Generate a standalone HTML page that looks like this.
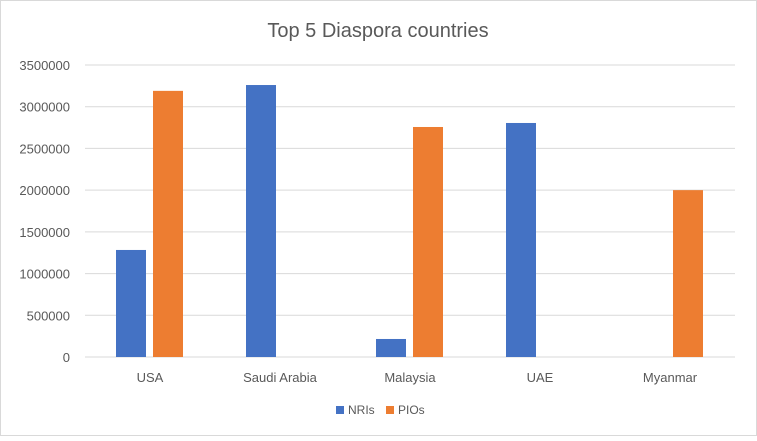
<!DOCTYPE html>
<html><head><meta charset="utf-8"><style>
body{margin:0;background:#fff;font-family:"Liberation Sans",sans-serif}
svg text{font-family:"Liberation Sans",sans-serif;fill:#595959}
</style></head><body>
<svg width="757" height="436">
<rect x="0.5" y="0.5" width="756" height="435" fill="#fff" stroke="#d9d9d9"/>
<text x="378" y="37" text-anchor="middle" font-size="20">Top 5 Diaspora countries</text>
<g id="grid"></g><g id="bars"></g><g id="labels"></g>
<g>
<rect x="336" y="406" width="8" height="8" fill="#4472c4"/>
<text x="348" y="414" font-size="12">NRIs</text>
<rect x="386" y="406" width="8" height="8" fill="#ed7d31"/>
<text x="398" y="414" font-size="12">PIOs</text>
</g>
</svg>
<script>
const categories=["USA","Saudi Arabia","Malaysia","UAE","Myanmar"];
const nris=[1283000,3260000,216000,2805000,0];
const pios=[3190000,0,2757000,0,2000000];
const ticks=[0,500000,1000000,1500000,2000000,2500000,3000000,3500000];
const NS="http://www.w3.org/2000/svg";
const x0=85,x1=735,y0=357,y1=65,ymax=3500000;
const y=v=>y0-(v/ymax)*(y0-y1);
const cw=(x1-x0)/categories.length;
const cx=i=>x0+cw*(i+0.5);
function mk(t,a,p){const e=document.createElementNS(NS,t);for(const k in a)e.setAttribute(k,a[k]);document.getElementById(p).appendChild(e);return e;}
ticks.forEach(t=>{
 const l=mk("line",{x1:x0,x2:x1,y1:y(t),y2:y(t),stroke:"#d9d9d9","stroke-width":1},"grid");
 
 
 const tx=mk("text",{x:70,y:y(t)+5,"text-anchor":"end","font-size":13},"labels");
 tx.textContent=t;
 
 
});
categories.forEach((c,i)=>{
 const b1=mk("rect",{x:cx(i)-34,y:y(nris[i]),width:30,height:y0-y(nris[i]),fill:"#4472c4"},"bars");
 
 
 const b2=mk("rect",{x:cx(i)+3,y:y(pios[i]),width:30,height:y0-y(pios[i]),fill:"#ed7d31"},"bars");
 
 
 const tx=mk("text",{x:cx(i),y:382,"text-anchor":"middle","font-size":13},"labels");
 tx.textContent=c;
 
 
});
</script>
</body></html>
